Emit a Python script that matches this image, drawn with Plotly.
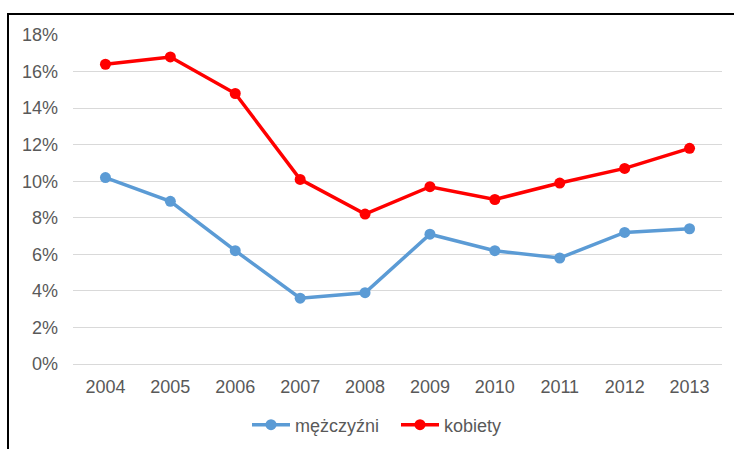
import plotly.graph_objects as go

years = ["2004", "2005", "2006", "2007", "2008", "2009", "2010", "2011", "2012", "2013"]
men = [10.2, 8.9, 6.2, 3.6, 3.9, 7.1, 6.2, 5.8, 7.2, 7.4]
women = [16.4, 16.8, 14.8, 10.1, 8.2, 9.7, 9.0, 9.9, 10.7, 11.8]
y_ticks = [0, 2, 4, 6, 8, 10, 12, 14, 16, 18]
y_tick_labels = ["0%", "2%", "4%", "6%", "8%", "10%", "12%", "14%", "16%", "18%"]

W, H = 734, 449
L, R, T, B = 73, 12, 35, 85
pw, ph = W - L - R, H - T - B


def px_x(p):
    return (p - L) / pw


def px_y(p):
    return (H - B - p) / ph


fig = go.Figure()
fig.add_trace(go.Scatter(
    x=years, y=men, name="mężczyźni", mode="lines+markers",
    line=dict(color="#5B9BD5", width=3.5),
    marker=dict(color="#5B9BD5", size=11),
))
fig.add_trace(go.Scatter(
    x=years, y=women, name="kobiety", mode="lines+markers",
    line=dict(color="#FF0000", width=3.5),
    marker=dict(color="#FF0000", size=11),
))

gray = "#595959"
fig.update_layout(
    width=W, height=H,
    margin=dict(l=L, r=R, t=T, b=B, autoexpand=False),
    paper_bgcolor="white", plot_bgcolor="white",
    font=dict(family="Liberation Sans, Arial, sans-serif", size=18, color=gray),
    showlegend=True,
    legend=dict(
        orientation="h", xref="container", yref="container",
        x=247 / W, xanchor="left",
        y=1 - 425 / H, yanchor="middle",
        font=dict(size=18, color=gray), itemwidth=38, entrywidth=96,
        bgcolor="rgba(0,0,0,0)",
    ),
    xaxis=dict(
        type="category", range=[-0.5, len(years) - 0.5],
        showgrid=False, showline=True, linecolor="#D9D9D9", linewidth=1,
        ticks="", ticklabelstandoff=6, tickfont=dict(size=18, color=gray),
        automargin=False, fixedrange=True,
    ),
    yaxis=dict(
        range=[0, 18], tickmode="array", tickvals=y_ticks, ticktext=y_tick_labels,
        showgrid=True, gridcolor="#D9D9D9", gridwidth=1,
        zeroline=False, showline=False, ticks="",
        ticklabelstandoff=14, tickfont=dict(size=18, color=gray),
        automargin=False, fixedrange=True,
    ),
    shapes=[
        dict(type="line", xref="paper", yref="paper",
             x0=px_x(8), x1=px_x(8), y0=px_y(13), y1=px_y(H + 2),
             line=dict(color="black", width=2)),
        dict(type="line", xref="paper", yref="paper",
             x0=px_x(7), x1=px_x(W + 2), y0=px_y(14), y1=px_y(14),
             line=dict(color="black", width=2)),
    ],
)

fig.write_html("out.html", config={"displayModeBar": False})
